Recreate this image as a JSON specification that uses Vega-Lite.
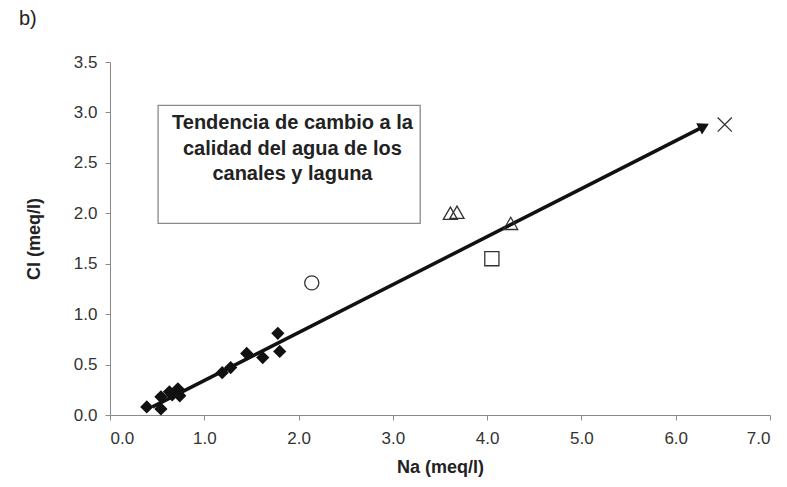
{
  "$schema": "https://vega.github.io/schema/vega-lite/v6.json",
  "width": 660,
  "height": 353,
  "autosize": {"type": "none"},
  "padding": {"left": 110, "top": 62, "right": 17, "bottom": 72},
  "background": "white",
  "config": {
    "view": {"stroke": null},
    "axis": {
      "grid": false,
      "domainColor": "#8a8a8a",
      "tickColor": "#8a8a8a",
      "tickSize": 5,
      "labelFont": "Liberation Sans",
      "labelFontSize": 17,
      "labelColor": "#333333",
      "titleFont": "Liberation Sans",
      "titleFontSize": 18,
      "titleFontWeight": "bold",
      "titleColor": "#222222"
    }
  },
  "title": {
    "text": "b)",
    "anchor": "start",
    "frame": "group",
    "dx": -91,
    "offset": 24,
    "font": "Liberation Sans",
    "fontSize": 20,
    "fontWeight": "normal",
    "color": "#222222"
  },
  "datasets": {
    "points": [
      {"x": 0.39, "y": 0.08, "kind": "diamond"},
      {"x": 0.54, "y": 0.06, "kind": "diamond"},
      {"x": 0.54, "y": 0.18, "kind": "diamond"},
      {"x": 0.63, "y": 0.23, "kind": "diamond"},
      {"x": 0.66, "y": 0.2, "kind": "diamond"},
      {"x": 0.72, "y": 0.26, "kind": "diamond"},
      {"x": 0.74, "y": 0.19, "kind": "diamond"},
      {"x": 1.19, "y": 0.42, "kind": "diamond"},
      {"x": 1.28, "y": 0.47, "kind": "diamond"},
      {"x": 1.45, "y": 0.61, "kind": "diamond"},
      {"x": 1.62, "y": 0.57, "kind": "diamond"},
      {"x": 1.78, "y": 0.81, "kind": "diamond"},
      {"x": 1.8, "y": 0.63, "kind": "diamond"},
      {"x": 2.14, "y": 1.31, "kind": "circle"},
      {"x": 3.61, "y": 2.0, "kind": "triangle"},
      {"x": 3.68, "y": 2.01, "kind": "triangle"},
      {"x": 4.25, "y": 1.9, "kind": "triangle"},
      {"x": 4.05, "y": 1.55, "kind": "square"},
      {"x": 6.52, "y": 2.88, "kind": "cross"}
    ],
    "arrow": [
      {"x": 0.45, "y": 0.08},
      {"x": 6.3, "y": 2.862}
    ],
    "head": [{"x": 6.3, "y": 2.862}],
    "box": [{"x": 0.51, "y": 3.07, "x2": 3.29, "y2": 1.9}],
    "label": [
      {"x": 1.935, "y": 2.834, "text": "Tendencia de cambio a la"},
      {"x": 1.935, "y": 2.577, "text": "calidad del agua de los"},
      {"x": 1.935, "y": 2.329, "text": "canales y laguna"}
    ]
  },
  "encoding": {
    "x": {
      "field": "x",
      "type": "quantitative",
      "scale": {"domain": [0, 7], "nice": false, "zero": false},
      "axis": {
        "title": "Na (meq/l)",
        "values": [0, 1, 2, 3, 4, 5, 6, 7],
        "format": ".1f",
        "labelPadding": 10,
        "titlePadding": 12
      }
    },
    "y": {
      "field": "y",
      "type": "quantitative",
      "scale": {"domain": [0, 3.5], "nice": false, "zero": false},
      "axis": {
        "title": "Cl (meq/l)",
        "values": [0, 0.5, 1, 1.5, 2, 2.5, 3, 3.5],
        "format": ".1f",
        "labelPadding": 8,
        "titlePadding": 30
      }
    }
  },
  "layer": [
    {
      "data": {"name": "box"},
      "mark": {"type": "rect", "fill": "white", "stroke": "#8a8a8a", "strokeWidth": 1.3},
      "encoding": {
        "x2": {"field": "x2"},
        "y2": {"field": "y2"}
      }
    },
    {
      "data": {"name": "label"},
      "mark": {
        "type": "text",
        "font": "Liberation Sans",
        "fontSize": 20,
        "fontWeight": "bold",
        "align": "center",
        "baseline": "alphabetic",
        "color": "#222222"
      },
      "encoding": {"text": {"field": "text"}}
    },
    {
      "data": {"name": "arrow"},
      "mark": {"type": "line", "color": "#111111", "strokeWidth": 3.5, "strokeCap": "butt"},
      "encoding": {}
    },
    {
      "data": {"name": "head"},
      "mark": {
        "type": "point",
        "shape": "triangle-right",
        "filled": true,
        "color": "#111111",
        "opacity": 1,
        "size": 160,
        "angle": 333
      }
    },
    {
      "data": {"name": "points"},
      "transform": [{"filter": "datum.kind === 'diamond'"}],
      "mark": {"type": "point", "shape": "diamond", "filled": true, "color": "#111111", "opacity": 1, "size": 175}
    },
    {
      "data": {"name": "points"},
      "transform": [{"filter": "datum.kind !== 'diamond'"}],
      "mark": {"type": "point", "filled": false, "color": "#333333", "opacity": 1, "strokeWidth": 1.3, "size": 200},
      "encoding": {
        "shape": {
          "field": "kind",
          "type": "nominal",
          "scale": {
            "domain": ["circle", "triangle", "square", "cross"],
            "range": ["circle", "triangle-up", "square", "M-1,-1L1,1M1,-1L-1,1"]
          },
          "legend": null
        }
      }
    }
  ]
}
